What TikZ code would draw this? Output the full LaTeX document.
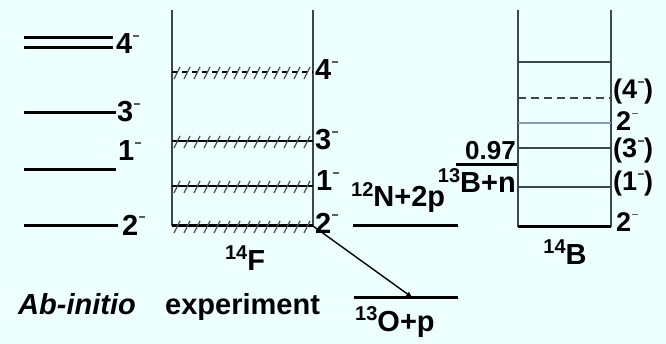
\documentclass[tikz,border=0pt]{standalone}
\usepackage{fontspec}
\setmainfont{Liberation Sans}
\definecolor{bgcyan}{HTML}{EEFFFF}
\definecolor{boxline}{HTML}{3C4650}
\definecolor{paleline}{HTML}{8A9AB0}
\definecolor{hatchgray}{HTML}{4A525C}
\definecolor{minusgray}{HTML}{55606A}
\newcommand{\spm}{\kern1pt\textcolor{minusgray}{\rule[.6em]{6pt}{1.4pt}}}
\newcommand{\iso}[1]{\raisebox{.36em}{\fontsize{20}{20}\selectfont #1}}

\begin{document}
\begin{tikzpicture}[x=1pt,y=-1pt,>=latex,
    every node/.style={inner sep=0,font=\fontsize{29}{29}\selectfont\bfseries},
    lev/.style={line width=3pt},
    wall/.style={boxline,line width=1.5pt},
    hatch/.style={hatchgray,line width=1.2pt},
    blbl/.style={anchor=west,font=\fontsize{27}{27}\selectfont\bfseries}]
    \fill[bgcyan](0,0)rectangle(666,344);
    \useasboundingbox(0,0)rectangle(666,344);
    \newcommand{\hatched}[2]{%
      \draw[#2](172,#1)--(313,#1);
      \foreach \hx in {177,187,...,307}\draw[hatch](\hx-3,#1+7)--(\hx+3,#1-5);}
    % ab initio levels
    \draw[lev](24,38)--(113,38);
    \draw[lev](24,48)--(113,48);
    \draw[lev](24,113)--(116,113);
    \draw[lev](24,170)--(116,170);
    \draw[lev](24,226)--(118,226);
    \node[anchor=west](ab4)at(116,44){4\spm};
    \node[anchor=west](ab3)at(117,112){3\spm};
    \node[anchor=west](ab1)at(118,151){1\spm};
    \node[anchor=west](ab2)at(122,225){2\spm};
    % experiment 14F
    \draw[wall](172,10)--(172,226);
    \draw[wall](313,10)--(313,226);
    \hatched{72}{line width=1.4pt,dash pattern=on 6pt off 4pt}
    \hatched{141}{line width=1.6pt}
    \hatched{186}{line width=1.6pt}
    \hatched{226}{line width=3pt}
    \node[anchor=west](ex4)at(315,70){4\spm};
    \node[anchor=west](ex3)at(315,140){3\spm};
    \node[anchor=west](ex1)at(316,181){1\spm};
    \node[anchor=west](ex2)at(315,223){2\spm};
    \node(lblF)at(245,258){\iso{14}F};
    % thresholds
    \draw[lev](353,226)--(458,226);
    \draw[lev](354,298)--(458,298);
    \node[anchor=base west](thN)at(351,207){\iso{12}N+2p};
    \node[anchor=base west](thO)at(355,331){\iso{13}O+p};
    \coordinate(exgs)at(313,226);
    \coordinate(Otip)at(413,298);
    \draw[->,line width=1.4pt](exgs)--(Otip);
    % 14B
    \draw[lev](456,165)--(518,165);
    \node[anchor=base east,font=\fontsize{26}{26}\selectfont\bfseries](sn)at(516,160){0.97};
    \node[anchor=base east](thB)at(516,193){\iso{13}B+n};
    \draw[wall](518,10)--(518,227);
    \draw[wall](611,10)--(611,227);
    \draw[boxline,line width=1.6pt](518,62)--(611,62);
    \draw[boxline,line width=1.8pt,dash pattern=on 8pt off 5pt](518,98)--(611,98);
    \draw[paleline,line width=1.6pt](518,123)--(611,123);
    \draw[boxline,line width=1.6pt](518,148)--(611,148);
    \draw[boxline,line width=1.6pt](518,187)--(611,187);
    \draw[lev](518,227)--(611,227);
    \node[blbl](b4)at(613,92){(4\spm)};
    \node[blbl](b2a)at(616,121){2\spm};
    \node[blbl](b3)at(613,151){(3\spm)};
    \node[blbl](b1)at(613,184){(1\spm)};
    \node[blbl](b2)at(616,222){2\spm};
    \node(lblB)at(565,252){\iso{14}B};
    % bottom captions
    \node[anchor=base west,font=\fontsize{29}{29}\selectfont\bfseries\itshape](capab)at(18,315){Ab-initio};
    \node[anchor=base west](capex)at(165,315){experiment};
\end{tikzpicture}
\end{document}
